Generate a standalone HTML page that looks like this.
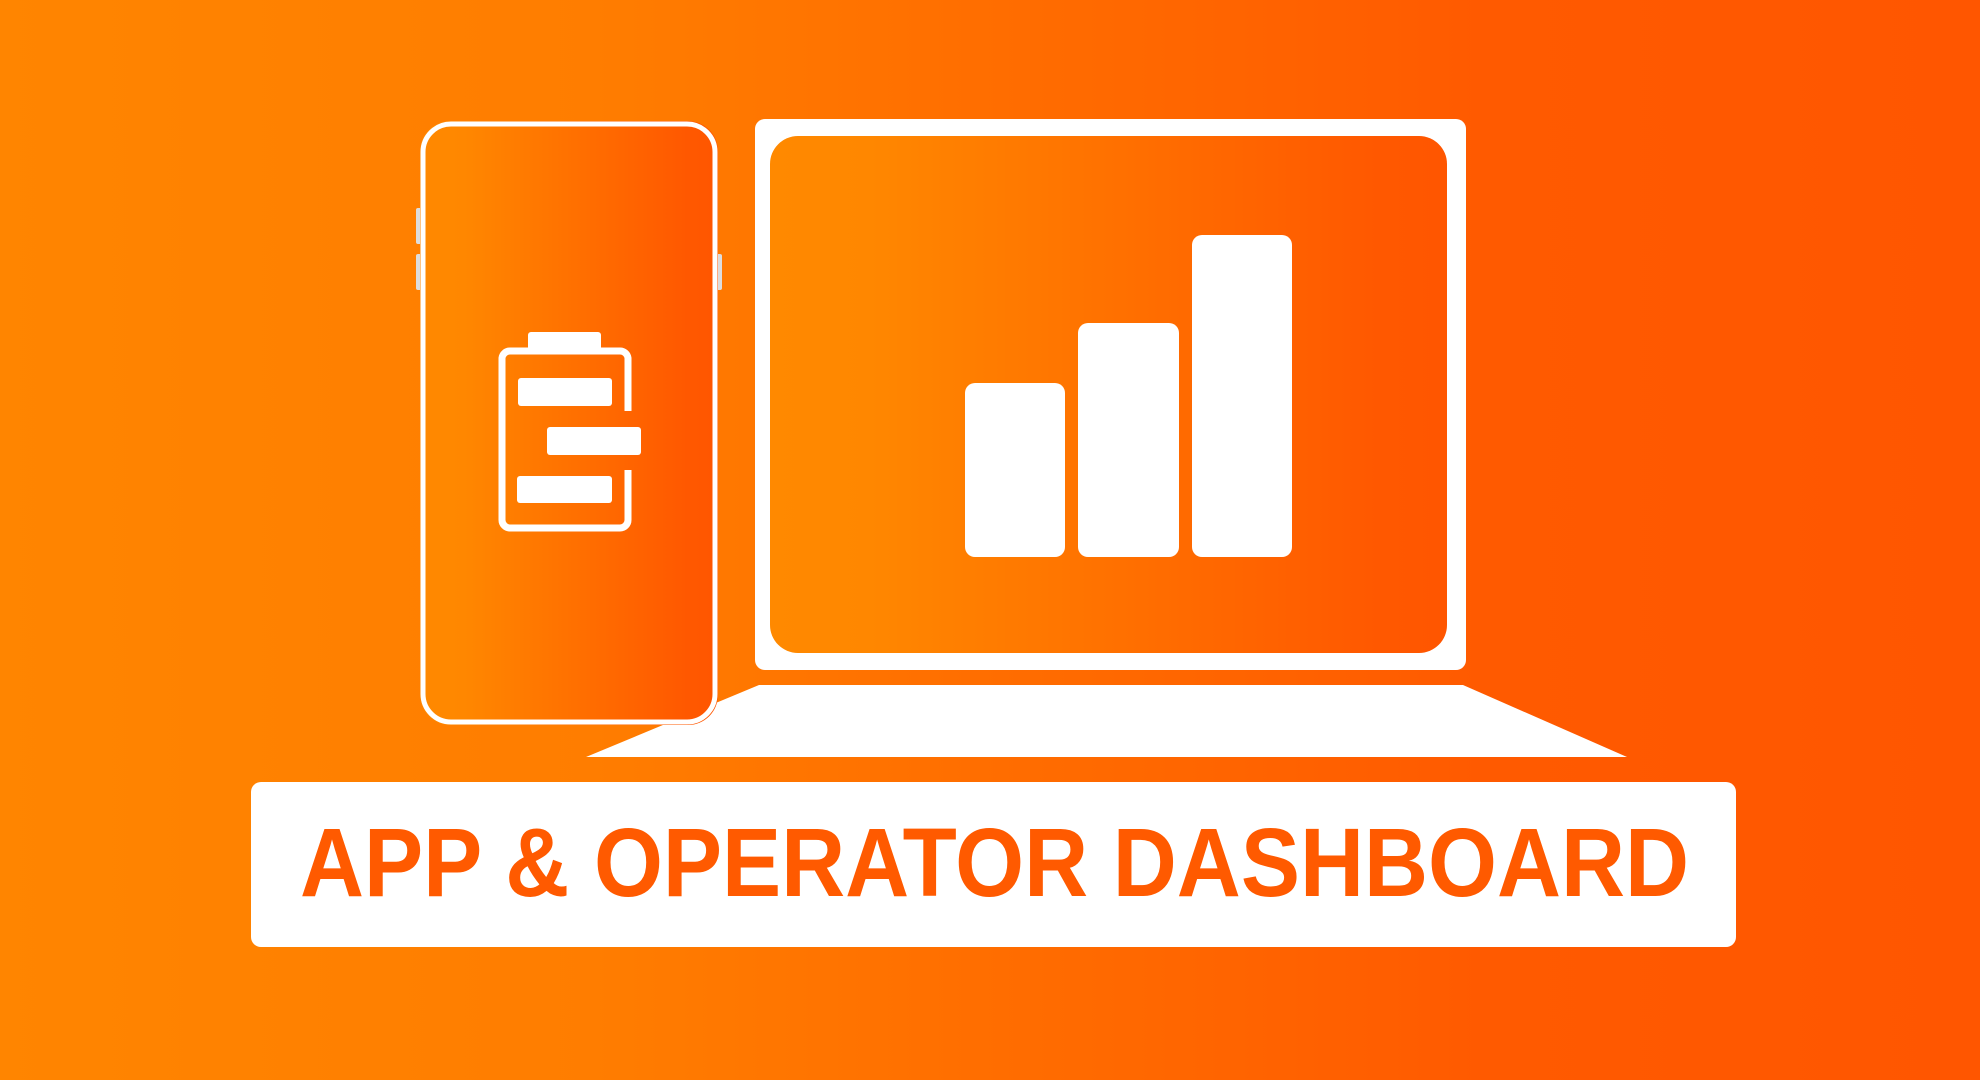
<!DOCTYPE html>
<html><head><meta charset="utf-8"><style>
html,body{margin:0;padding:0}
body{width:1980px;height:1080px;overflow:hidden;background:linear-gradient(90deg,#ff8500 0%,#ff7d00 30%,#ff5a00 75%,#ff5600 100%)}
</style></head><body>
<svg width="1980" height="1080" viewBox="0 0 1980 1080" style="position:absolute;left:0;top:0">
<defs>
<linearGradient id="g" x1="0" y1="0" x2="1" y2="0">
<stop offset="0" stop-color="#ff8900"/><stop offset="0.15" stop-color="#ff8700"/><stop offset="0.9" stop-color="#ff5800"/><stop offset="1" stop-color="#ff5600"/>
</linearGradient>
</defs>
<!-- laptop base -->
<polygon points="759,685 1463,685 1627,757 586,757" fill="#fff"/>
<!-- laptop lid -->
<rect x="755" y="119" width="711" height="551" rx="10" fill="#fff"/>
<rect x="770" y="136" width="677" height="517" rx="28" fill="url(#g)"/>
<rect x="965" y="383" width="100" height="174" rx="10" fill="#fff"/>
<rect x="1078" y="323" width="101" height="234" rx="10" fill="#fff"/>
<rect x="1192" y="235" width="100" height="322" rx="10" fill="#fff"/>
<!-- phone -->
<rect x="416" y="208" width="6" height="36" rx="2" fill="#ddd"/>
<rect x="416" y="254" width="6" height="36" rx="2" fill="#ddd"/>
<rect x="716" y="254" width="6" height="36" rx="2" fill="#ddd"/>
<rect x="420" y="121" width="298" height="604" rx="30" fill="url(#g)"/>
<rect x="423" y="124" width="292" height="598" rx="28" fill="none" stroke="#fff" stroke-width="5"/>
<!-- battery icon -->
<rect x="528" y="332" width="73" height="19" rx="3" fill="#fff"/>
<path d="M628,411 V358 A8,8 0 0 0 620,351 H510 A8,8 0 0 0 502,358 V520 A8,8 0 0 0 510,528 H620 A8,8 0 0 0 628,520 V470" fill="none" stroke="#fff" stroke-width="7"/>
<rect x="518" y="378" width="94" height="28" rx="3" fill="#fff"/>
<rect x="547" y="427" width="94" height="28" rx="3" fill="#fff"/>
<rect x="517" y="476" width="95" height="27" rx="3" fill="#fff"/>
<!-- label -->
<rect x="251" y="782" width="1485" height="165" rx="10" fill="#fff"/>
<text x="300" y="896" textLength="1389" lengthAdjust="spacingAndGlyphs" font-family="Liberation Sans, sans-serif" font-weight="bold" font-size="97" fill="#ff5a00">APP &amp; OPERATOR DASHBOARD</text>
</svg>
</body></html>
